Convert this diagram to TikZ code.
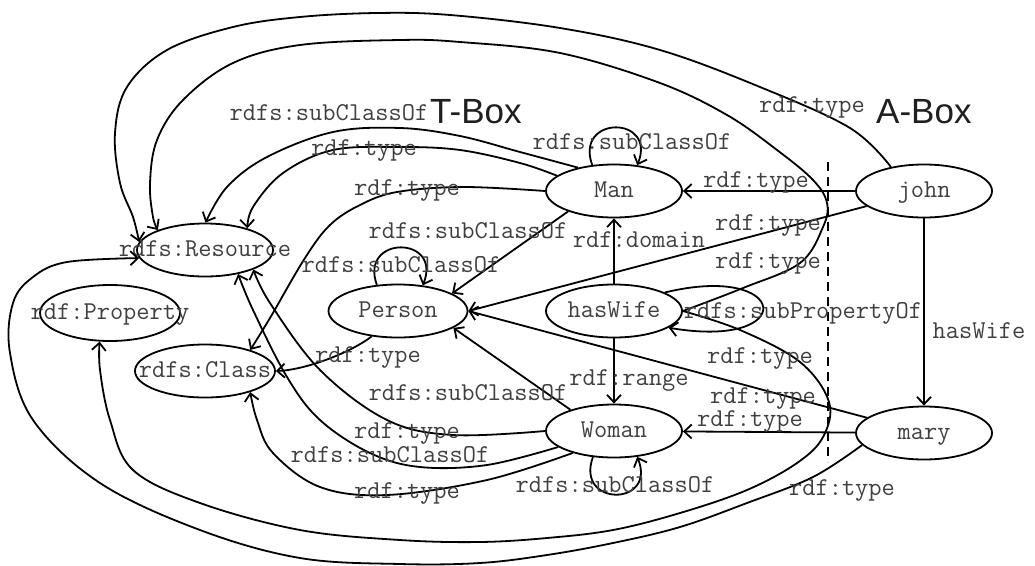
\documentclass[tikz,border=0pt]{standalone}
\usepackage{fontspec}
\newfontfamily\sansf{Liberation Sans}
\usetikzlibrary{shapes.geometric,arrows.meta}
\newcommand\monofnt{\ttfamily\fontsize{25.7}{28}\selectfont}
\begin{document}
\begin{tikzpicture}[x=1pt,y=-1pt,
  ent/.style={ellipse,draw,line width=1.8pt,minimum width=136pt,minimum height=53pt,
    inner sep=0pt,text height=13pt,text depth=0pt,
    font=\monofnt,text=black!75},
  lbl/.style={font=\monofnt,text=black!75,inner sep=0pt,anchor=base},
  boxlbl/.style={font=\sansf\fontsize{35}{38}\selectfont,text=black!88,inner sep=0pt,anchor=base west},
  edge/.style={line width=1.8pt,-{Straight Barb[length=7.5pt,width=14pt]}},
  sm/.style={smooth,tension=0.6},
  divider/.style={line width=1.8pt,dash pattern=on 9pt off 6pt}]
\useasboundingbox (0,0) rectangle (1035,565);

% nodes
\node[ent] (res) at (205,250) {\makebox[0pt]{rdfs:Resource}};
\node[ent,minimum width=140pt,minimum height=56pt] (prop) at (110,313) {\makebox[0pt]{rdf:Property}};
\node[ent,minimum width=140pt] (cls) at (205,371) {\makebox[0pt]{rdfs:Class}};
\node[ent,minimum width=139pt] (person) at (398,311) {\makebox[0pt]{Person}};
\node[ent] (man) at (614,191) {\makebox[0pt]{Man}};
\node[ent] (haswife) at (614,311) {\makebox[0pt]{hasWife}};
\node[ent] (woman) at (614,431) {\makebox[0pt]{Woman}};
\node[ent] (john) at (924,191) {\makebox[0pt]{john}};
\node[ent] (mary) at (924,433) {\makebox[0pt]{mary}};

% box titles and divider
\node[boxlbl] (tbox) at (430,123) {T-Box};
\node[boxlbl] (abox) at (876,123) {A-Box};
\coordinate (dtop) at (828,162);
\coordinate (dbot) at (828,462);
\draw[divider] (dtop) -- (dbot);

% straight edges
\draw[edge] (john) -- (man);
\draw[edge] (mary) -- (woman);
\draw[edge] (john) -- (mary);
\draw[edge] (haswife) -- (man);
\draw[edge] (haswife) -- (woman);
\draw[edge] (john) -- (person.east);
\draw[edge] (mary) -- (person.east);
\draw[edge] (man.204) -- (person.18);
\draw[edge] (woman.154) -- (person.343);
\draw[edge] (person.224) .. controls (350,353) and (305,370) .. (cls.east);

% self loops
\draw[edge] (man.130) .. controls +(-18,-50) and +(20,-50) .. (man.48);
\draw[edge] (person.129) .. controls +(-18,-50) and +(20,-50) .. (person.46);
\draw[edge] (woman.231) .. controls +(-18,50) and +(20,50) .. (woman.312);
\draw[edge] (haswife.20) .. controls (790,262) and (800,350) .. (haswife.343);

% long curves
\draw[edge] plot[sm] coordinates {(john.144) (850,128) (760,87) (660,50) (560,28) (450,15) (377,13) (300,17) (233,27) (167,50) (127,87) (115,133) (120,183) (133,217) (res.173)};
\draw[edge] plot[sm] coordinates {(haswife.east) (743,288) (800,263) (823,227) (827,203) (813,180) (777,150) (727,115) (660,83) (560,53) (460,42) (400,40) (300,45) (233,63) (183,100) (157,140) (150,183) (153,217) (res.157)};
\draw[edge] plot[sm] coordinates {(haswife.east) (740,330) (800,362) (829,402) (823,437) (797,463) (747,490) (680,513) (613,530) (547,538) (480,542) (400,540) (300,530) (200,503) (133,470) (110,420) (100,370) (prop.250)};
\draw[edge] plot[sm] coordinates {(mary.191) (813,477) (747,503) (680,527) (613,543) (547,555) (480,563) (400,564) (300,558) (200,530) (100,483) (33,420) (10,353) (13,303) (33,277) (67,262) (res.187)};
\draw[edge] plot[sm] coordinates {(man.147) (520,152) (460,136) (400,128) (333,132) (267,157) (227,187) (res.89)};
\draw[edge] plot[sm] coordinates {(man.165) (520,163) (460,150) (400,147) (333,150) (283,173) (253,207) (res.27)};
\draw[edge] plot[sm] coordinates {(man.west) (463,187) (397,192) (360,205) (330,225) (305,258) (270,318) (cls.25)};
\draw[edge] plot[sm] coordinates {(woman.west) (453,435) (387,420) (320,370) (270,303) (res.338)};
\draw[edge] plot[sm] coordinates {(woman.196) (487,465) (420,467) (370,453) (320,420) (287,377) (253,310) (res.324)};
\draw[edge] plot[sm] coordinates {(woman.208) (487,480) (387,495) (320,487) (273,453) (257,420) (cls.335)};

% labels
\node[lbl] (l1) at (329,120) {rdfs:subClassOf};
\node[lbl] (l2) at (364,155) {rdf:type};
\node[lbl] (l3) at (407,195) {rdf:type};
\node[lbl] (l4) at (632,149) {rdfs:subClassOf};
\node[lbl] (l5) at (812,112) {rdf:type};
\node[lbl] (l6) at (756,187) {rdf:type};
\node[lbl] (l7) at (468,238) {rdfs:subClassOf};
\node[lbl] (l8) at (639,247) {rdf:domain};
\node[lbl] (l9) at (768,230) {rdf:type};
\node[lbl] (l10) at (768,268) {rdf:type};
\node[lbl] (l11) at (401,272) {rdfs:subClassOf};
\node[lbl] (l12) at (803,318) {rdfs:subPropertyOf};
\node[lbl] (l13) at (979,338) {hasWife};
\node[lbl] (l14) at (368,362) {rdf:type};
\node[lbl] (l15) at (760,363) {rdf:type};
\node[lbl] (l16) at (629,385) {rdf:range};
\node[lbl] (l17) at (468,400) {rdfs:subClassOf};
\node[lbl] (l18) at (763,403) {rdf:type};
\node[lbl] (l19) at (750,426) {rdf:type};
\node[lbl] (l20) at (407,438) {rdf:type};
\node[lbl] (l21) at (390,462) {rdfs:subClassOf};
\node[lbl] (l22) at (615,492) {rdfs:subClassOf};
\node[lbl] (l23) at (407,498) {rdf:type};
\node[lbl] (l24) at (842,495) {rdf:type};
\end{tikzpicture}
\end{document}
